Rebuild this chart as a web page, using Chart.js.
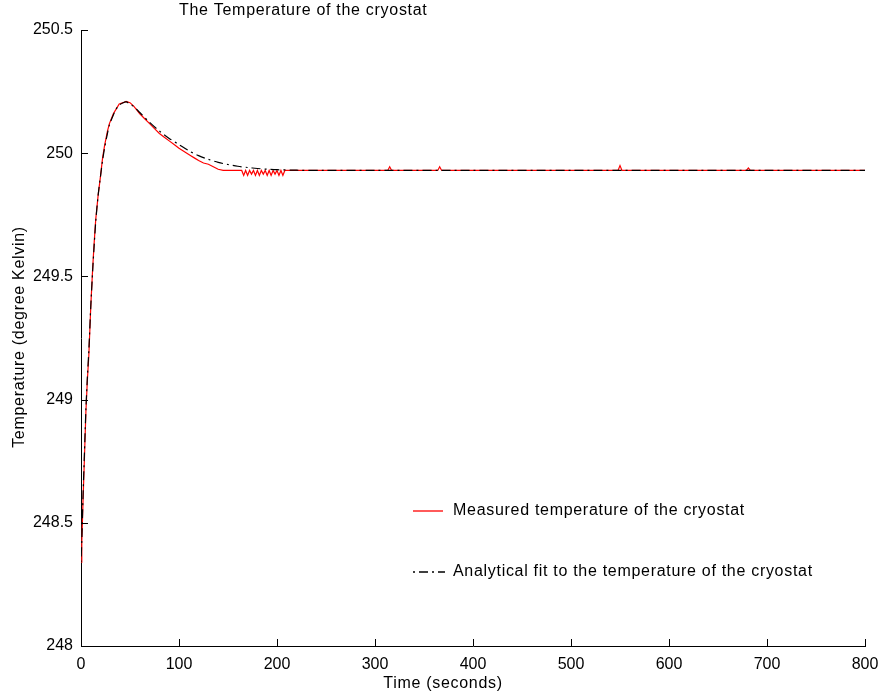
<!DOCTYPE html>
<html>
<head>
<meta charset="utf-8">
<script src="https://cdn.jsdelivr.net/npm/chart.js@4/dist/chart.umd.min.js"></script>
<style>
  body { margin: 0; background: #fff; }
</style>
</head>
<body>
<canvas id="cryoChart" width="882" height="698"></canvas>
<script>
// Measured temperature (red)
const measuredTime = [0, 0.6, 1, 2, 3.4, 5, 6.5, 8, 10, 12, 13.5, 15, 17.5, 20, 22, 24, 27, 29, 33, 36, 39, 43, 46, 50, 54,
  60, 65, 70, 75, 80, 85, 90, 95, 100, 104, 108, 112, 116, 120, 125, 130, 135, 140, 145,
  160, 164, 166, 168, 170, 172, 174, 176, 178, 180, 182, 184, 186, 188, 190, 192, 194, 196, 198, 200, 202, 204, 206, 208, 210,
  260, 313, 315, 317, 364, 366, 368, 450, 548, 550, 552, 679, 681, 683, 800];
const measuredTemp = [248.34, 248.34, 248.42, 248.58, 248.75, 248.95, 249.08, 249.18, 249.38, 249.54, 249.64, 249.73, 249.83, 249.91, 249.98, 250.03, 250.09, 250.12, 250.16, 250.18, 250.2, 250.205, 250.21, 250.205, 250.19,
  250.16, 250.14, 250.12, 250.1, 250.08, 250.065, 250.05, 250.035, 250.02, 250.01, 250.0, 249.99, 249.98, 249.97, 249.96, 249.955, 249.945, 249.935, 249.93,
  249.93, 249.93, 249.91, 249.93, 249.91, 249.93, 249.915, 249.93, 249.91, 249.93, 249.91, 249.93, 249.915, 249.93, 249.91, 249.93, 249.91, 249.93, 249.915, 249.93, 249.91, 249.93, 249.91, 249.93, 249.93,
  249.93, 249.93, 249.945, 249.93, 249.93, 249.945, 249.93, 249.93, 249.93, 249.95, 249.93, 249.93, 249.94, 249.93, 249.93];

// Analytical fit (black dash-dot)
const fitTime = [0, 1, 2, 3.4, 5, 6.5, 8, 10, 12, 13.5, 15, 17.5, 20, 22, 24, 27, 29, 33, 36, 39, 43, 46, 50, 55,
  60, 70, 80, 90, 100, 110, 120, 130, 140, 150, 160, 170, 180, 190, 200, 220, 250, 300, 400, 500, 600, 700, 800];
const fitTemp = [248.34, 248.45, 248.6, 248.77, 248.96, 249.09, 249.2, 249.38, 249.53, 249.63, 249.72, 249.83, 249.91, 249.97, 250.02, 250.08, 250.115, 250.155, 250.18, 250.195, 250.205, 250.208, 250.2, 250.185,
  250.165, 250.125, 250.09, 250.06, 250.035, 250.01, 249.99, 249.975, 249.963, 249.954, 249.947, 249.942, 249.938, 249.935, 249.933, 249.931, 249.93, 249.93, 249.93, 249.93, 249.93, 249.93, 249.93];

const xRange = [0, 800];
const yRange = [248, 250.5];
const legendLabels = ['Measured temperature of the cryostat', 'Analytical fit to the temperature of the cryostat'];
const chartTitle = 'The Temperature of the cryostat';
const xTitle = 'Time (seconds)';
const yTitle = 'Temperature (degree Kelvin)';

const FONT = '"Liberation Sans", Arial, Helvetica, sans-serif';

function toPoints(xs, ys) {
  return xs.map((x, i) => ({ x: x, y: ys[i] }));
}

// ticks pointing into the plot, titles and legend drawn by hand
const decorPlugin = {
  id: 'decor',
  afterDraw(chart) {
    const ctx = chart.ctx;
    const area = chart.chartArea;
    const xs = chart.scales.x;
    const ys = chart.scales.y;
    ctx.save();
    ctx.strokeStyle = '#000';
    ctx.lineWidth = 1;
    ctx.beginPath();
    xs.ticks.forEach(t => {
      const px = Math.round(xs.getPixelForValue(t.value)) + 0.5;
      ctx.moveTo(px, area.bottom);
      ctx.lineTo(px, area.bottom - 7);
    });
    ys.ticks.forEach(t => {
      const py = Math.round(ys.getPixelForValue(t.value)) + 0.5;
      ctx.moveTo(area.left, py);
      ctx.lineTo(area.left + 7, py);
    });
    ctx.stroke();

    ctx.fillStyle = '#000';
    ctx.font = '16px ' + FONT;
    ctx.letterSpacing = '0.7px';
    ctx.textBaseline = 'middle';

    // title
    ctx.textAlign = 'left';
    ctx.fillText(chartTitle, 179, 11);

    // axis titles
    ctx.textAlign = 'center';
    ctx.fillText(xTitle, 443, 684);
    ctx.save();
    ctx.translate(20, 337);
    ctx.rotate(-Math.PI / 2);
    ctx.fillText(yTitle, 0, 0);
    ctx.restore();

    // legend
    ctx.textAlign = 'left';
    ctx.strokeStyle = '#ff0000';
    ctx.lineWidth = 1.3;
    ctx.beginPath();
    ctx.moveTo(413, 511);
    ctx.lineTo(443, 511);
    ctx.stroke();
    ctx.fillText(legendLabels[0], 453, 511);

    ctx.strokeStyle = '#000';
    ctx.setLineDash([2, 4, 9, 4]);
    ctx.beginPath();
    ctx.moveTo(413, 572);
    ctx.lineTo(445, 572);
    ctx.stroke();
    ctx.setLineDash([]);
    ctx.fillText(legendLabels[1], 453, 572);
    ctx.restore();
  }
};

new Chart(document.getElementById('cryoChart'), {
  type: 'line',
  data: {
    datasets: [
      {
        label: legendLabels[0],
        data: toPoints(measuredTime, measuredTemp),
        borderColor: '#ff0000',
        borderWidth: 1.2,
        pointRadius: 0,
        tension: 0,
        fill: false,
        order: 2
      },
      {
        label: legendLabels[1],
        data: toPoints(fitTime, fitTemp),
        borderColor: '#000000',
        borderWidth: 1.2,
        borderDash: [2, 4, 9, 4],
        pointRadius: 0,
        tension: 0.3,
        fill: false,
        order: 1
      }
    ]
  },
  options: {
    responsive: false,
    animation: false,
    layout: { padding: { top: 30, right: 17, left: 0, bottom: 0 } },
    plugins: {
      legend: { display: false },
      title: { display: false },
      tooltip: { enabled: false }
    },
    scales: {
      x: {
        type: 'linear',
        min: xRange[0],
        max: xRange[1],
        ticks: { stepSize: 100, color: '#000', font: { family: FONT, size: 16 }, padding: 9, maxRotation: 0 },
        grid: { drawOnChartArea: false, drawTicks: false },
        border: { color: '#000', width: 1 },
        afterFit(scale) {
          scale.height = 52;
          scale.paddingLeft = 0;
          scale.paddingRight = 0;
        }
      },
      y: {
        type: 'linear',
        min: yRange[0],
        max: yRange[1],
        ticks: {
          stepSize: 0.5, color: '#000', font: { family: FONT, size: 16 }, padding: 8,
          callback: v => String(v)
        },
        grid: { drawOnChartArea: false, drawTicks: false },
        border: { color: '#000', width: 1 },
        afterFit(scale) {
          scale.width = 81;
          scale.paddingTop = 0;
          scale.paddingBottom = 0;
        }
      }
    }
  },
  plugins: [decorPlugin]
});
</script>
</body>
</html>
